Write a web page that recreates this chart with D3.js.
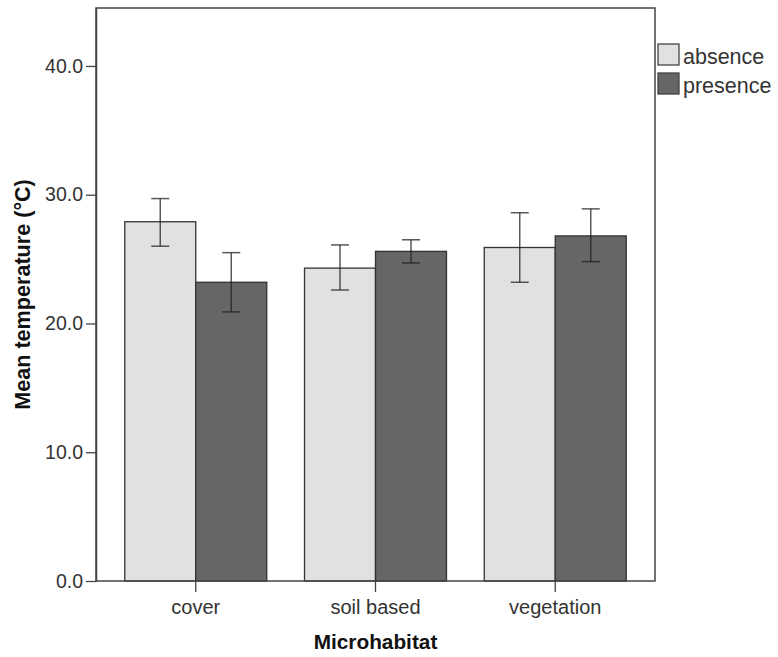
<!DOCTYPE html>
<html>
<head>
<meta charset="utf-8">
<script src="https://cdn.jsdelivr.net/npm/d3@7"></script>
<style>
  body { margin: 0; background: #fff; }
  text { font-family: "Liberation Sans", Arial, sans-serif; }
</style>
</head>
<body>
<div id="chart"></div>
<script>
// Datos
const categories = ["cover", "soil based", "vegetation"];
const groups = ["absence", "presence"];
const absenceMean = [27.9, 24.3, 25.9];
const absenceLow = [26.0, 22.6, 23.2];
const absenceHigh = [29.7, 26.1, 28.6];
const presenceMean = [23.2, 25.6, 26.8];
const presenceLow = [20.9, 24.7, 24.8];
const presenceHigh = [25.5, 26.5, 28.9];
const yTicks = [0, 10, 20, 30, 40];

const width = 778;
const height = 657;
const margin = { top: 8, right: 123, bottom: 76, left: 96 };
const innerW = width - margin.left - margin.right;
const innerH = height - margin.top - margin.bottom;

const colors = { absence: "#e1e1e1", presence: "#666666" };

const data = categories.map((c, i) => ({
  category: c,
  values: [
    { group: "absence", mean: absenceMean[i], low: absenceLow[i], high: absenceHigh[i] },
    { group: "presence", mean: presenceMean[i], low: presenceLow[i], high: presenceHigh[i] }
  ]
}));

const svg = d3.select("#chart")
  .append("svg")
  .attr("width", width)
  .attr("height", height);

const g = svg.append("g")
  .attr("transform", `translate(${margin.left},${margin.top})`);

// Escalas
const x0 = d3.scaleBand()
  .domain(categories)
  .range([0, innerW])
  .paddingInner(0.21)
  .paddingOuter(0.16);

const x1 = d3.scaleBand()
  .domain(groups)
  .range([0, x0.bandwidth()]);

const y = d3.scaleLinear()
  .domain([0, 44.5])
  .range([innerH, 0]);

// Barras
const grp = g.selectAll(".grupo")
  .data(data)
  .enter()
  .append("g")
  .attr("class", "grupo")
  .attr("transform", d => `translate(${x0(d.category)},0)`);

grp.selectAll("rect")
  .data(d => d.values)
  .enter()
  .append("rect")
  .attr("x", d => x1(d.group))
  .attr("y", d => y(d.mean))
  .attr("width", x1.bandwidth())
  .attr("height", d => innerH - y(d.mean))
  .attr("fill", d => colors[d.group])
  .attr("stroke", "#333")
  .attr("stroke-width", 1.3);

// Barras de error
const capW = 18;
const err = grp.selectAll(".err")
  .data(d => d.values)
  .enter()
  .append("g")
  .attr("class", "err")
  .attr("stroke", "#222")
  .attr("stroke-opacity", 0.75)
  .attr("stroke-width", 1.5);

err.append("line")
  .attr("x1", d => x1(d.group) + x1.bandwidth() / 2)
  .attr("x2", d => x1(d.group) + x1.bandwidth() / 2)
  .attr("y1", d => y(d.high))
  .attr("y2", d => y(d.low));

err.append("line")
  .attr("x1", d => x1(d.group) + x1.bandwidth() / 2 - capW / 2)
  .attr("x2", d => x1(d.group) + x1.bandwidth() / 2 + capW / 2)
  .attr("y1", d => y(d.high))
  .attr("y2", d => y(d.high));

err.append("line")
  .attr("x1", d => x1(d.group) + x1.bandwidth() / 2 - capW / 2)
  .attr("x2", d => x1(d.group) + x1.bandwidth() / 2 + capW / 2)
  .attr("y1", d => y(d.low))
  .attr("y2", d => y(d.low));

// Marco
g.append("rect")
  .attr("x", 0)
  .attr("y", 0)
  .attr("width", innerW)
  .attr("height", innerH)
  .attr("fill", "none")
  .attr("stroke", "#444")
  .attr("stroke-width", 1.5);

// Ejes
const yAxis = g.append("g")
  .call(d3.axisLeft(y).tickValues(yTicks).tickFormat(d3.format(".1f"))
    .tickSize(10).tickSizeOuter(0).tickPadding(3));
yAxis.select(".domain").attr("stroke", "#444").attr("stroke-width", 1.5);
yAxis.selectAll(".tick line").attr("stroke", "#444").attr("stroke-width", 1.3);
yAxis.selectAll("text")
  .attr("fill", "#333")
  .style("font-size", "19.5px");

const xAxis = g.append("g")
  .attr("transform", `translate(0,${innerH})`)
  .call(d3.axisBottom(x0).tickSize(11).tickPadding(8).tickSizeOuter(0));
xAxis.select(".domain").remove();
xAxis.selectAll(".tick line").attr("stroke", "#444").attr("stroke-width", 1.3);
xAxis.selectAll("text")
  .attr("fill", "#333")
  .style("font-size", "20px");

// Títulos de ejes
svg.append("text")
  .attr("transform", `translate(30,${margin.top + innerH / 2}) rotate(-90)`)
  .attr("text-anchor", "middle")
  .style("font-size", "21.6px")
  .style("font-weight", "bold")
  .attr("fill", "#111")
  .text("Mean temperature (°C)");

svg.append("text")
  .attr("x", margin.left + innerW / 2)
  .attr("y", 649)
  .attr("text-anchor", "middle")
  .style("font-size", "20.8px")
  .style("font-weight", "bold")
  .attr("fill", "#111")
  .text("Microhabitat");

// Leyenda
const legend = svg.append("g")
  .attr("transform", `translate(${margin.left + innerW + 3},44)`);

const item = legend.selectAll(".item")
  .data(groups)
  .enter()
  .append("g")
  .attr("class", "item")
  .attr("transform", (d, i) => `translate(0,${i * 29})`);

item.append("rect")
  .attr("width", 21)
  .attr("height", 21)
  .attr("fill", d => colors[d])
  .attr("stroke", "#444")
  .attr("stroke-width", 1.3);

item.append("text")
  .attr("x", 25)
  .attr("y", 20)
  .attr("fill", "#333")
  .style("font-size", "21.5px")
  .text(d => d);
</script>
</body>
</html>
